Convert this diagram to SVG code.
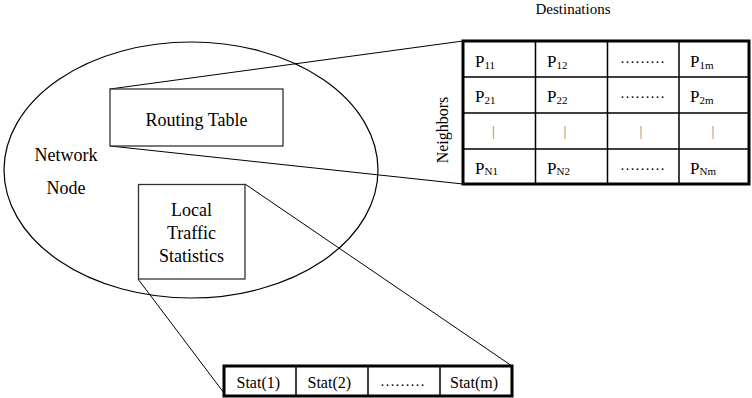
<svg xmlns="http://www.w3.org/2000/svg" width="752" height="398" viewBox="0 0 752 398">
<style>
text{font-family:"Liberation Serif","Times New Roman",serif;fill:#000}
.lbl{font-size:18px;text-anchor:middle}
.cell{font-size:17px}
.sub{font-size:11px}
.dots{font-size:15px}
.bar{font-size:14px;fill:#777}
.stat{font-size:16px}
.box{fill:#fff;stroke:#333;stroke-width:1.3}
.outer{fill:#fff;stroke:#000;stroke-width:3}
.grid{stroke:#000;stroke-width:1.5;fill:none}
.conn{stroke:#000;stroke-width:1;fill:none}
</style>
<rect width="752" height="398" fill="#fff"/>
<g id="network-node">
<ellipse cx="191" cy="170" rx="187" ry="128" fill="none" stroke="#000" stroke-width="1.2"/>
<text class="lbl" x="66" y="161">Network</text>
<text class="lbl" x="66" y="194">Node</text>
</g>
<g id="connectors">
<line class="conn" x1="110" y1="89" x2="463" y2="41"/>
<line class="conn" x1="110" y1="146" x2="463" y2="184"/>
<line class="conn" x1="245" y1="184" x2="512" y2="366"/>
<line class="conn" x1="138" y1="279" x2="224" y2="393"/>
</g>
<g id="routing-table">
<rect class="box" x="110" y="89" width="173" height="57"/>
<text class="lbl" x="196.5" y="126">Routing Table</text>
</g>
<g id="local-traffic-statistics">
<rect class="box" x="138.5" y="184.5" width="106.5" height="94.5"/>
<text class="lbl" x="191.5" y="215.5">Local</text>
<text class="lbl" x="191.5" y="238.5">Traffic</text>
<text class="lbl" x="191.5" y="261.5">Statistics</text>
</g>
<g id="destinations-matrix">
<text x="573" y="14" style="font-size:15px;text-anchor:middle">Destinations</text>
<text x="448" y="130" transform="rotate(-90 448 130)" style="font-size:16px;text-anchor:middle">Neighbors</text>
<rect class="outer" x="463" y="41" width="286" height="143"/>
<path class="grid" d="M535.5 41V184M607.5 41V184M679 41V184M463 77H749M463 113H749M463 149H749"/>
<text class="cell" x="475" y="67">P<tspan class="sub" dy="2">11</tspan></text>
<text class="cell" x="547" y="67">P<tspan class="sub" dy="2">12</tspan></text>
<text class="dots" x="620" y="63">………</text>
<text class="cell" x="690" y="67">P<tspan class="sub" dy="2">1m</tspan></text>
<text class="cell" x="475" y="102">P<tspan class="sub" dy="2">21</tspan></text>
<text class="cell" x="547" y="102">P<tspan class="sub" dy="2">22</tspan></text>
<text class="dots" x="620" y="98">………</text>
<text class="cell" x="690" y="102">P<tspan class="sub" dy="2">2m</tspan></text>
<text class="bar" x="492" y="136">|</text>
<text class="bar" x="563.5" y="136">|</text>
<text class="bar" x="639.5" y="136">|</text>
<text class="bar" x="711.5" y="136">|</text>
<text class="cell" x="475" y="173.5">P<tspan class="sub" dy="1">N1</tspan></text>
<text class="cell" x="547" y="173.5">P<tspan class="sub" dy="1">N2</tspan></text>
<text class="dots" x="620" y="170">………</text>
<text class="cell" x="690" y="173.5">P<tspan class="sub" dy="1">Nm</tspan></text>
</g>
<g id="stat-table">
<rect class="outer" x="224" y="366" width="288" height="30"/>
<path class="grid" d="M296 366V396M368 366V396M440 366V396"/>
<text class="stat" x="236.5" y="388">Stat(1)</text>
<text class="stat" x="307.5" y="388">Stat(2)</text>
<text class="dots" x="380" y="386">………</text>
<text class="stat" x="450" y="388">Stat(m)</text>
</g>
</svg>
